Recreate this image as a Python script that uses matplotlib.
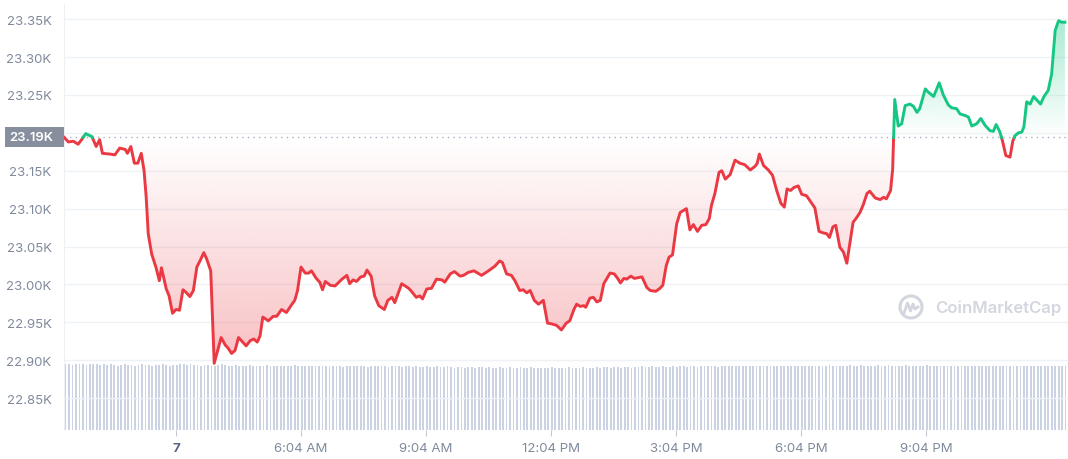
import numpy as np
import matplotlib.pyplot as plt
from matplotlib.colors import to_rgb
from matplotlib.patches import Circle, Rectangle
from matplotlib.lines import Line2D
from matplotlib.transforms import blended_transform_factory

plt.rcParams['font.family'] = ['Inter', 'DejaVu Sans']

# minutes since the chart day start, and BTC price in USD
minutes = [23, 29, 36, 43, 48, 54, 63, 69, 74, 78, 89, 96, 103, 111, 114, 119, 124, 129, 134, 138,
           141, 144, 149, 155, 160, 163, 170, 174, 179, 184, 189, 194, 198, 204, 209, 214, 219, 224, 228, 234,
           239, 244, 249, 255, 259, 264, 269, 274, 280, 285, 291, 296, 301, 305, 309, 317, 324, 329, 336, 343,
           351, 355, 359, 364, 370, 375, 379, 386, 391, 395, 399, 406, 413, 423, 430, 434, 439, 444, 450, 455,
           459, 465, 470, 476, 484, 489, 495, 499, 509, 519, 523, 530, 535, 539, 545, 552, 559, 567, 571, 579,
           585, 593, 598, 605, 613, 624, 634, 643, 650, 654, 660, 667, 672, 679, 684, 689, 694, 700, 706, 713,
           719, 725, 732, 739, 746, 751, 757, 761, 766, 771, 774, 780, 785, 790, 795, 800, 809, 815, 820, 824,
           829, 833, 839, 844, 855, 862, 867, 875, 881, 885, 890, 894, 899, 905, 910, 919, 924, 929, 935, 941,
           947, 952, 955, 960, 966, 970, 975, 982, 989, 996, 1003, 1011, 1018, 1021, 1024, 1030, 1037, 1043, 1049, 1055,
           1060, 1064, 1069, 1074, 1080, 1085, 1092, 1098, 1104, 1110, 1116, 1121, 1125, 1130, 1134, 1140, 1145, 1150, 1155, 1159,
           1164, 1169, 1174, 1179, 1183, 1191, 1198, 1203, 1207, 1213, 1216, 1219, 1224, 1229, 1234, 1241, 1246, 1251, 1255, 1263,
           1267, 1275, 1283, 1289, 1296, 1301, 1308, 1313, 1320, 1325, 1330, 1337, 1343, 1349, 1356, 1361, 1365, 1370, 1374, 1379,
           1385, 1389, 1392, 1397, 1402, 1405, 1409, 1414, 1419, 1423, 1429, 1434, 1440, 1445, 1450, 1455, 1459, 1464]
prices = [23194, 23188, 23189, 23185, 23191, 23199, 23195, 23182, 23191, 23173, 23172, 23171, 23180, 23178, 23173, 23182, 23160, 23160, 23173, 23150,
          23116, 23067, 23040, 23023, 23005, 23022, 22994, 22985, 22962, 22967, 22966, 22993, 22990, 22984, 22992, 23023, 23032, 23042, 23034, 23018,
          22896, 22913, 22930, 22920, 22916, 22909, 22913, 22930, 22924, 22919, 22926, 22928, 22924, 22932, 22957, 22952, 22958, 22958, 22967, 22963,
          22974, 22979, 22992, 23023, 23015, 23015, 23018, 23008, 23003, 22993, 23004, 22999, 22998, 23007, 23012, 23001, 23006, 23004, 23010, 23011,
          23019, 23011, 22985, 22972, 22967, 22979, 22983, 22976, 23001, 22995, 22991, 22983, 22985, 22981, 22994, 22995, 23007, 23006, 23003, 23014,
          23017, 23011, 23012, 23016, 23018, 23012, 23018, 23024, 23031, 23029, 23014, 23012, 23005, 22992, 22993, 22989, 22992, 22979, 22974, 22979,
          22949, 22948, 22946, 22940, 22949, 22952, 22967, 22974, 22971, 22972, 22970, 22982, 22983, 22977, 22979, 23001, 23015, 23014, 23008, 23002,
          23008, 23007, 23011, 23008, 23010, 22996, 22992, 22991, 22995, 22999, 23025, 23036, 23039, 23080, 23095, 23100, 23072, 23079, 23070, 23078,
          23079, 23087, 23104, 23120, 23148, 23150, 23139, 23145, 23164, 23160, 23158, 23151, 23156, 23160, 23172, 23157, 23151, 23144, 23124, 23107,
          23102, 23126, 23124, 23128, 23130, 23119, 23117, 23109, 23101, 23070, 23068, 23067, 23062, 23076, 23078, 23049, 23043, 23028, 23058, 23082,
          23088, 23095, 23106, 23120, 23123, 23114, 23112, 23115, 23113, 23124, 23152, 23244, 23209, 23212, 23236, 23238, 23235, 23227, 23232, 23258,
          23254, 23248, 23266, 23250, 23237, 23233, 23232, 23225, 23223, 23221, 23209, 23212, 23219, 23210, 23203, 23202, 23211, 23202, 23190, 23170,
          23168, 23189, 23196, 23200, 23201, 23208, 23241, 23238, 23248, 23244, 23238, 23248, 23256, 23278, 23335, 23348, 23346, 23346]
open_price = 23194

# 5-minute volume bars (relative units)
volume = [101, 102, 100, 101, 102, 101, 100, 102, 101, 101, 100, 101,
          100, 101, 100, 99, 100, 101, 100, 100, 99, 100, 101, 100,
          100, 99, 100, 100, 101, 100, 99, 100, 100, 101, 102, 100,
          101, 100, 100, 99, 100, 100, 99, 99, 100, 101, 100, 99,
          99, 100, 99, 98, 99, 100, 99, 98, 99, 99, 100, 99,
          99, 98, 99, 99, 98, 99, 100, 99, 98, 99, 99, 98,
          99, 98, 98, 99, 98, 98, 99, 98, 97, 98, 99, 98,
          98, 99, 98, 97, 98, 98, 99, 98, 98, 97, 98, 98,
          98, 97, 98, 98, 97, 98, 97, 97, 98, 97, 97, 98,
          97, 97, 98, 97, 96, 97, 97, 96, 97, 97, 96, 97,
          97, 96, 97, 96, 96, 97, 96, 96, 97, 96, 96, 97,
          96, 96, 97, 96, 96, 95, 96, 96, 97, 96, 96, 96,
          96, 97, 96, 96, 96, 97, 96, 96, 96, 97, 96, 97,
          97, 96, 97, 97, 96, 97, 97, 96, 97, 97, 98, 97,
          97, 98, 97, 97, 98, 97, 97, 98, 97, 98, 98, 97,
          98, 98, 97, 98, 98, 99, 98, 98, 97, 98, 99, 98,
          98, 99, 98, 98, 99, 98, 98, 99, 98, 99, 98, 99,
          99, 98, 99, 99, 98, 99, 99, 98, 99, 99, 98, 99,
          99, 99, 98, 99, 100, 99, 99, 98, 99, 99, 100, 99,
          99, 100, 99, 99, 98, 99, 100, 99, 99, 100, 99, 99,
          99, 99, 100, 99, 99, 98, 99, 99, 100, 99, 99, 98,
          99, 98, 99, 99, 98, 99, 99, 98, 99, 98, 99, 99,
          98, 99, 99, 98, 99, 99, 98, 99, 99, 98, 99, 99,
          99, 98, 99, 99, 98, 99, 99, 99, 98, 99, 99, 99, 99]
vol_minutes = np.arange(25, 25 + 5 * len(volume), 5)

tick_minutes = [184, 364, 544, 724, 904, 1084, 1264]
tick_labels = ["7", "6:04 AM", "9:04 AM", "12:04 PM", "3:04 PM", "6:04 PM", "9:04 PM"]
price_ticks = [22850, 22900, 22950, 23000, 23050, 23100, 23150, 23200, 23250, 23300, 23350]

RED = "#ea3943"
GREEN = "#16c784"
LABEL = "#808a9d"

fig = plt.figure(figsize=(10.68, 4.6), dpi=100)
ax = fig.add_axes([64 / 1068, 29 / 460, 1 - 64 / 1068, 426 / 460])
ax2 = ax.twinx()
ax.set_zorder(2)
ax.patch.set_visible(False)
ax2.set_zorder(1)

# volume bars
ax2.bar(vol_minutes, volume, width=2.6, color="#cbd3e3", linewidth=0)
ax2.set_ylim(0, 655)
ax2.axis("off")

# split the price line at the open price
t = np.array(minutes, float)
p = np.array(prices, float)
tt, pp = [t[0]], [p[0]]
for i in range(1, len(t)):
    a, b = p[i - 1] - open_price, p[i] - open_price
    if a * b < 0:
        f = a / (a - b)
        tt.append(t[i - 1] + f * (t[i] - t[i - 1]))
        pp.append(open_price)
    tt.append(t[i])
    pp.append(p[i])
tt, pp = np.array(tt), np.array(pp)


def gradient_fill(mask, color, y0, y1, a_top, a_bot):
    poly = ax.fill_between(tt, pp, open_price, where=mask, facecolor="none", edgecolor="none")
    img = np.zeros((256, 1, 4))
    img[..., :3] = to_rgb(color)
    img[:, 0, 3] = np.linspace(a_top, a_bot, 256)
    for path in poly.get_paths():
        im = ax.imshow(img, aspect="auto", extent=[t[0], t[-1], y0, y1], origin="upper", zorder=1)
        im.set_clip_path(path, transform=ax.transData)


# red region: from open price down to the low, green region above it
gradient_fill(pp <= open_price, RED, pp.min(), open_price, 0.0, 0.32)
gradient_fill(pp >= open_price, GREEN, open_price, pp.max(), 0.36, 0.0)

red = np.where(pp <= open_price, pp, np.nan)
green = np.where(pp >= open_price, pp, np.nan)
ax.plot(tt, red, color=RED, lw=2.1, zorder=4, solid_joinstyle="round")
ax.plot(tt, green, color=GREEN, lw=2.1, zorder=4, solid_joinstyle="round")

ax.axhline(open_price, color="#a6b0c3", lw=1, ls=(0, (1, 3)), zorder=3)

ax.set_xlim(22.7, 1468.5)
ax.set_ylim(22808, 23370)

ax.set_yticks(price_ticks)
ax.set_yticklabels(["" if v == 23200 else f"{v / 1000:.2f}K" for v in price_ticks])
ax.tick_params(axis="y", length=0, pad=9, labelcolor=LABEL, labelsize=9.5)
ax.grid(axis="y", color="#eff2f5", lw=1)
ax.set_axisbelow(True)

ax.set_xticks(tick_minutes)
ax.set_xticklabels(tick_labels)
ax.tick_params(axis="x", length=4, color="#c3c9d4", pad=5, labelcolor=LABEL, labelsize=9.5)
day = ax.get_xticklabels()[0]
day.set_fontweight("bold")
day.set_color("#58667e")

for s in ["top", "right", "bottom"]:
    ax.spines[s].set_visible(False)
ax.spines["left"].set_color("#eceff3")

# current open price tag
blend = blended_transform_factory(ax.transAxes, ax.transData)
ax.add_patch(Rectangle((-59 / 1004, open_price - 13.2), 59 / 1004, 26.4, transform=blend,
                       facecolor="#878e9e", edgecolor="none", clip_on=False, zorder=5))
ax.text(-11 / 1004, open_price, f"{open_price / 1000:.2f}K", transform=blend, ha="right", va="center",
        color="white", fontsize=9.5, fontweight="semibold", zorder=6)

# watermark
wm = "#d3d6de"
fig.patches.append(Circle((9.11, 1.52), 0.11, transform=fig.dpi_scale_trans, fill=False,
                          edgecolor=wm, lw=2.2))
fig.lines.append(Line2D([9.04, 9.075, 9.105, 9.13, 9.15, 9.18], [1.46, 1.56, 1.48, 1.55, 1.50, 1.52],
                        transform=fig.dpi_scale_trans, color=wm, lw=2))
fig.text(935 / 1068, 152 / 460, "CoinMarketCap", ha="left", va="center", fontsize=12,
         color=wm, fontweight="semibold")

fig.savefig("out.png", dpi=100)
